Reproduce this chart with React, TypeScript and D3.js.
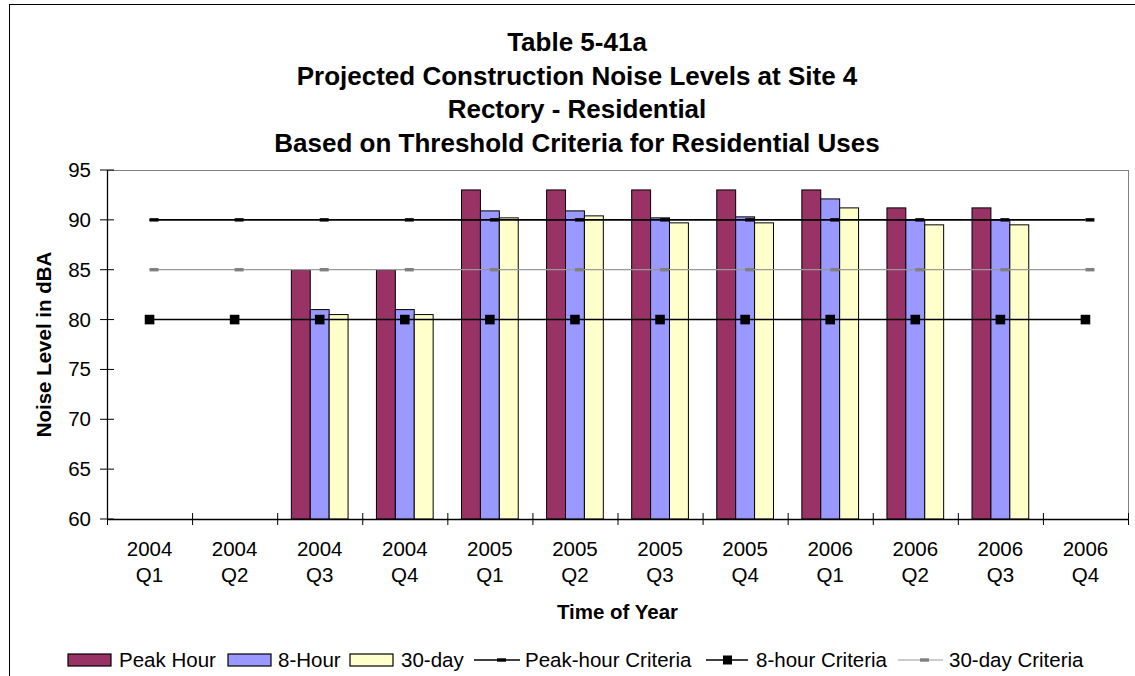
import React from "react";
import * as d3 from "d3";

const years = ["2004", "2004", "2004", "2004", "2005", "2005", "2005", "2005", "2006", "2006", "2006", "2006"];
const quarters = ["Q1", "Q2", "Q3", "Q4", "Q1", "Q2", "Q3", "Q4", "Q1", "Q2", "Q3", "Q4"];
const peakHour: (number | null)[] = [null, null, 85, 85, 93, 93, 93, 93, 93, 91.2, 91.2, null];
const eightHour: (number | null)[] = [null, null, 81, 81, 90.9, 90.9, 90.2, 90.3, 92.1, 90.0, 90.0, null];
const thirtyDay: (number | null)[] = [null, null, 80.5, 80.5, 90.2, 90.4, 89.7, 89.7, 91.2, 89.5, 89.5, null];
const peakCriteria = [90, 90, 90, 90, 90, 90, 90, 90, 90, 90, 90, 90];
const eightCriteria = [80, 80, 80, 80, 80, 80, 80, 80, 80, 80, 80, 80];
const thirtyCriteria = [85, 85, 85, 85, 85, 85, 85, 85, 85, 85, 85, 85];
const yTicks = [60, 65, 70, 75, 80, 85, 90, 95];
const titleLines = [
  "Table 5-41a",
  "Projected Construction Noise Levels at Site 4",
  "Rectory - Residential",
  "Based on Threshold Criteria for Residential Uses",
];
const barSeries = [
  { name: "Peak Hour", values: peakHour, color: "#993366" },
  { name: "8-Hour", values: eightHour, color: "#9999FF" },
  { name: "30-day", values: thirtyDay, color: "#FFFFCC" },
];

const W = 1135;
const H = 676;
const FONT = "'Liberation Sans', Arial, sans-serif";

export default function App() {
  const left = 107, right = 1128, top = 170, bottom = 519;
  const cats = years.map((_, i) => String(i));
  const x = d3.scaleBand().domain(cats).range([left, right]).padding(0);
  const bw = x.bandwidth();
  const groupW = bw / 1.5;
  const xs = d3.scaleBand().domain(["0", "1", "2"]).range([0, groupW]).padding(0);
  const y = d3.scaleLinear().domain([60, 95]).range([bottom, top]);
  const cx = (i: number) => (x(String(i)) as number) + bw / 2;
  const line = d3
    .line<number>()
    .x((_, i) => cx(i))
    .y((d) => y(d));

  const legendItems = [
    { type: "box", color: "#993366", label: "Peak Hour", sx: 68, tx: 119 },
    { type: "box", color: "#9999FF", label: "8-Hour", sx: 228, tx: 278 },
    { type: "box", color: "#FFFFCC", label: "30-day", sx: 350, tx: 401 },
    { type: "peak", color: "#000", label: "Peak-hour Criteria", sx: 474, tx: 525 },
    { type: "eight", color: "#000", label: "8-hour Criteria", sx: 706, tx: 756 },
    { type: "thirty", color: "#999999", label: "30-day Criteria", sx: 898, tx: 949 },
  ];
  const legY = 660;

  return (
    <svg
      width={W}
      height={H}
      style={{ position: "absolute", left: 0, top: 0, display: "block", background: "#fff" }}
      fontFamily={FONT}
    >
      <rect x={0} y={0} width={W} height={H} fill="#fff" />
      {/* outer frame */}
      <rect x={9.5} y={4.5} width={W + 20} height={H + 20} fill="none" stroke="#000" strokeWidth={1} />

      {/* title */}
      {titleLines.map((t, i) => (
        <text key={i} x={577} y={51 + i * 33.7} textAnchor="middle" fontSize={26} fontWeight="bold" fill="#000">
          {t}
        </text>
      ))}

      {/* plot area border */}
      <line x1={left} y1={top + 0.5} x2={right} y2={top + 0.5} stroke="#808080" strokeWidth={1} />
      <line x1={right + 0.5} y1={top} x2={right + 0.5} y2={bottom} stroke="#808080" strokeWidth={1} />

      {/* bars */}
      {barSeries.map((s, si) =>
        s.values.map((v, i) =>
          v == null ? null : (
            <rect
              key={`${si}-${i}`}
              x={cx(i) - groupW / 2 + (xs(String(si)) as number)}
              y={y(v)}
              width={xs.bandwidth()}
              height={bottom - y(v)}
              fill={s.color}
              stroke="#000"
              strokeWidth={1}
            />
          )
        )
      )}

      {/* criteria lines */}
      <path d={line(thirtyCriteria) || ""} fill="none" stroke="#999999" strokeWidth={1.2} />
      <path d={line(peakCriteria) || ""} fill="none" stroke="#000" strokeWidth={1.6} />
      <path d={line(eightCriteria) || ""} fill="none" stroke="#000" strokeWidth={1.6} />
      {thirtyCriteria.map((v, i) => (
        <rect key={`t${i}`} x={cx(i)} y={y(v) - 1.7} width={9} height={3.4} fill="#808080" />
      ))}
      {peakCriteria.map((v, i) => (
        <rect key={`p${i}`} x={cx(i)} y={y(v) - 1.7} width={9} height={3.4} fill="#000" />
      ))}
      {eightCriteria.map((v, i) => (
        <rect key={`e${i}`} x={cx(i) - 4.8} y={y(v) - 4.8} width={9.6} height={9.6} fill="#000" />
      ))}

      {/* y axis */}
      <line x1={left + 0.5} y1={top} x2={left + 0.5} y2={bottom} stroke="#000" strokeWidth={1.3} />
      {yTicks.map((t) => (
        <g key={t}>
          <line x1={100} x2={114} y1={y(t)} y2={y(t)} stroke="#000" strokeWidth={1} />
          <text x={91} y={y(t) + 7} textAnchor="end" fontSize={20.5} fill="#000">
            {t}
          </text>
        </g>
      ))}

      {/* x axis */}
      <line x1={left} y1={bottom + 0.5} x2={right + 1} y2={bottom + 0.5} stroke="#000" strokeWidth={1.3} />
      {d3.range(13).map((i) => {
        const xx = i < 12 ? (x(String(i)) as number) : right;
        return <line key={i} x1={xx + 0.5} x2={xx + 0.5} y1={bottom - 6} y2={bottom + 6} stroke="#000" strokeWidth={1} />;
      })}
      {years.map((yr, i) => (
        <g key={i}>
          <text x={cx(i)} y={556} textAnchor="middle" fontSize={20.5} fill="#000">
            {yr}
          </text>
          <text x={cx(i)} y={582} textAnchor="middle" fontSize={20.5} fill="#000">
            {quarters[i]}
          </text>
        </g>
      ))}

      {/* axis titles */}
      <text x={(left + right) / 2} y={619} textAnchor="middle" fontSize={20.5} fontWeight="bold" fill="#000">
        Time of Year
      </text>
      <text
        transform={`translate(${51},${(top + bottom) / 2}) rotate(-90)`}
        textAnchor="middle"
        fontSize={20.5}
        fontWeight="bold"
        fill="#000"
      >
        Noise Level in dBA
      </text>

      {/* legend */}
      {legendItems.map((it, i) => (
        <g key={i}>
          {it.type === "box" && (
            <rect x={it.sx} y={legY - 6} width={43} height={12} fill={it.color} stroke="#000" strokeWidth={1.2} />
          )}
          {it.type === "peak" && (
            <g>
              <line x1={it.sx} x2={it.sx + 46} y1={legY} y2={legY} stroke="#000" strokeWidth={1.6} />
              <rect x={it.sx + 23} y={legY - 1.7} width={9} height={3.4} fill="#000" />
            </g>
          )}
          {it.type === "eight" && (
            <g>
              <line x1={it.sx} x2={it.sx + 42} y1={legY} y2={legY} stroke="#000" strokeWidth={1.6} />
              <rect x={it.sx + 17} y={legY - 4.5} width={9} height={9} fill="#000" />
            </g>
          )}
          {it.type === "thirty" && (
            <g>
              <line x1={it.sx} x2={it.sx + 45} y1={legY} y2={legY} stroke="#999999" strokeWidth={1.2} />
              <rect x={it.sx + 22} y={legY - 1.7} width={9} height={3.4} fill="#808080" />
            </g>
          )}
          <text x={it.tx} y={legY + 7} fontSize={20.5} fill="#000">
            {it.label}
          </text>
        </g>
      ))}
    </svg>
  );
}
